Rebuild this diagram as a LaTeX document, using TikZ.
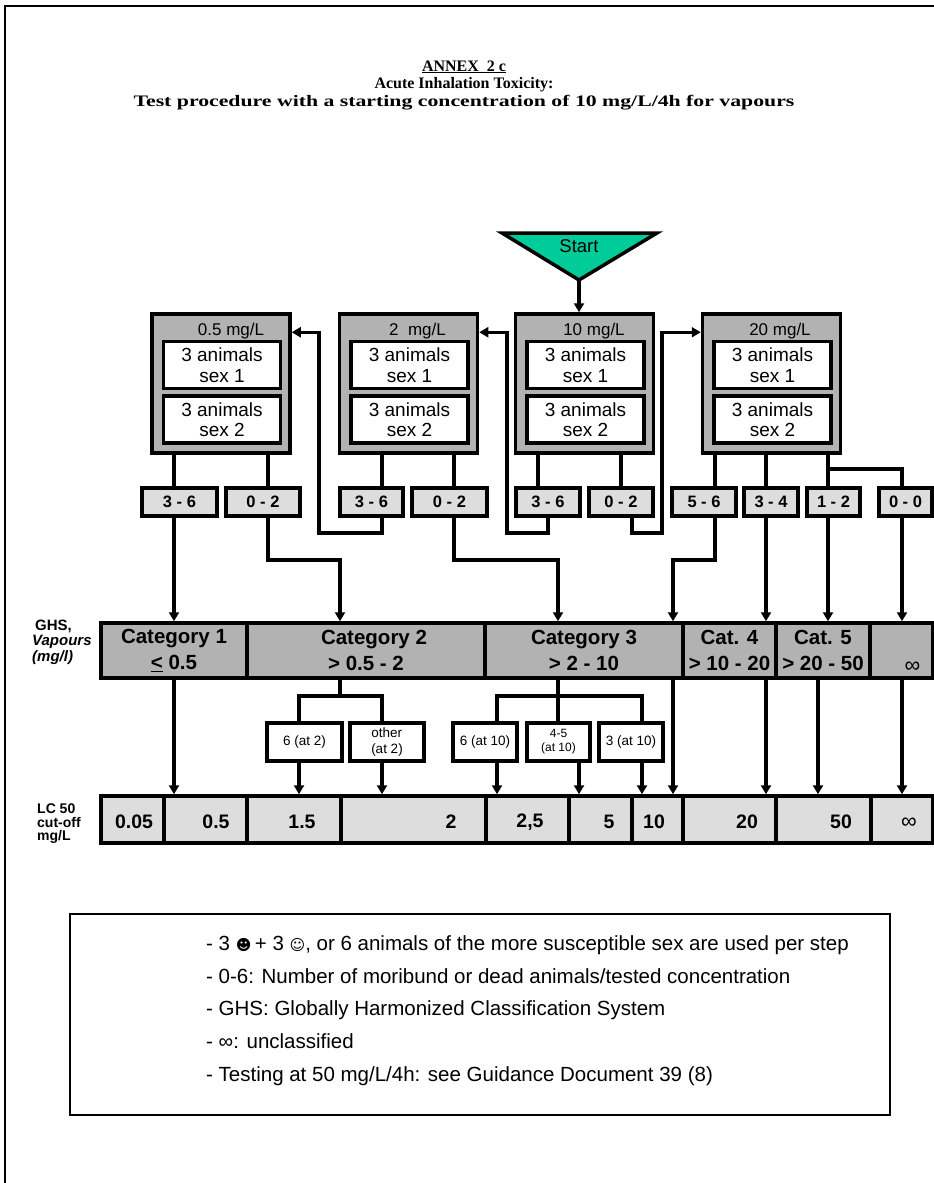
\documentclass[tikz,border=0pt]{standalone}
\usepackage{fontspec}
\setmainfont{Liberation Sans}
\newfontfamily\ttlfont{Liberation Serif}
\newfontfamily\symfnt{DejaVu Sans}
\usetikzlibrary{arrows.meta,calc}
\definecolor{boxgray}{RGB}{178,178,178}
\definecolor{lightgr}{RGB}{221,221,221}
\definecolor{startgreen}{RGB}{0,204,153}
\begin{document}
\begin{tikzpicture}[x=1pt,y=-1pt,
 conn/.style={line width=3.5pt},
 arr/.style={conn,-{Triangle[length=9pt,width=10pt]}},
 bigbox/.style={draw,line width=3.5pt,fill=boxgray,minimum width=138pt,minimum height=139pt,inner sep=0pt},
 animbox/.style={draw,line width=3.5pt,fill=white,minimum width=117pt,minimum height=47pt,inner sep=0pt,align=center,font=\fontsize{19}{20.5}\selectfont},
 conc/.style={font=\fontsize{17}{18}\selectfont,inner sep=0pt},
 lbl/.style={draw,line width=3.5pt,fill=lightgr,minimum height=28pt,inner sep=0pt,font=\bfseries\fontsize{16.5}{18}\selectfont},
 cat/.style={draw,line width=3.5pt,fill=boxgray,minimum height=55pt,inner sep=0pt,align=center,font=\bfseries\fontsize{20.5}{26}\selectfont},
 res/.style={draw,line width=3.5pt,fill=white,minimum height=38pt,inner sep=0pt,align=center,font=\fontsize{13.5}{16}\selectfont},
 lc/.style={draw,line width=3.5pt,fill=lightgr,minimum height=47pt,inner sep=0pt},
 lcval/.style={font=\bfseries\fontsize{19.5}{21}\selectfont,inner sep=0pt},
]
\useasboundingbox (0,0) rectangle (934,1183);
\fill[white] (0,0) rectangle (934,1183);
\draw[line width=2pt] (4.5,1183) -- (4.5,6) -- (934,6);

% title
\node[font=\ttlfont\bfseries\fontsize{16}{17.5}\selectfont,align=center,inner sep=0pt] (title) at (464,85)
 {\underline{ANNEX\ \ 2 c}\\Acute Inhalation Toxicity:\\\scalebox{1.36}[1]{Test procedure with a starting concentration of 10 mg/L/4h for vapours}};

% start
\draw[line width=3.5pt,fill=startgreen] (502,233) -- (657,233) -- (579,280) -- cycle;
\node[font=\fontsize{18.5}{20}\selectfont,inner sep=0pt] (start) at (579,246) {Start};
\coordinate (apex) at (579,280);

% concentration boxes
\node[bigbox] (b1) at (221,383.5) {};
\node[bigbox] (b2) at (408.5,383.5) {};
\node[bigbox] (b3) at (584.5,383.5) {};
\node[bigbox] (b4) at (771.5,383.5) {};
\node[conc] (t1) at (231,331) {0.5 mg/L};
\node[conc] (t2) at (417.5,331) {2\ \ mg/L};
\node[conc] (t3) at (594,331) {10 mg/L};
\node[conc] (t4) at (780,331) {20 mg/L};
\foreach \n/\x in {1/222,2/409.5,3/585.5,4/772.5}{
 \node[animbox] (a\n s1) at (\x,365) {3 animals\\sex 1};
 \node[animbox] (a\n s2) at (\x,419.5) {3 animals\\sex 2};
}
\draw[arr] (apex) -- (apex |- b3.north);

% outcome labels
\node[lbl,minimum width=75pt] (l1a) at (179.5,502) {3 - 6};
\node[lbl,minimum width=74pt] (l1b) at (263,502) {0 - 2};
\node[lbl,minimum width=63pt] (l2a) at (371.5,502) {3 - 6};
\node[lbl,minimum width=75pt] (l2b) at (449.5,502) {0 - 2};
\node[lbl,minimum width=64pt] (l3a) at (548,502) {3 - 6};
\node[lbl,minimum width=64pt] (l3b) at (621,502) {0 - 2};
\node[lbl,minimum width=64pt] (l4a) at (704,502) {5 - 6};
\node[lbl,minimum width=54pt] (l4b) at (771,502) {3 - 4};
\node[lbl,minimum width=53pt] (l4c) at (833.5,502) {1 - 2};
\node[lbl,minimum width=53pt] (l4d) at (905.5,502) {0 - 0};

% category bar
\node[cat,minimum width=146pt] (k1) at (174,650.5) {Category 1\\\underline{<} 0.5};
\node[cat,minimum width=238pt] (k2) at (366,650.5) {\hspace*{16pt}Category 2\\> 0.5 - 2};
\node[cat,minimum width=198pt] (k3) at (584,650.5) {Category 3\\> 2 - 10};
\node[cat,minimum width=93pt] (k4) at (729.5,650.5) {Cat. 4\\> 10 - 20};
\node[cat,minimum width=94pt] (k5) at (823,650.5) {Cat. 5\\> 20 - 50};
\node[cat,minimum width=63pt] (k6) at (901.5,650.5) {\strut\\\hspace*{22pt}\mdseries\fontsize{22}{26}\selectfont ∞};
\node[anchor=west,align=left,inner sep=0pt,font=\bfseries\fontsize{15}{15.5}\selectfont] (ghs) at (32,642)
 {\hspace*{3pt}GHS,\\\textit{Vapours}\\\textit{(mg/l)}};

% result boxes
\node[res,minimum width=75pt] (s1) at (304.5,742) {6 (at 2)};
\node[res,minimum width=74pt,align=left] (s2) at (387,742) {other\\(at 2)};
\node[res,minimum width=64pt] (s3) at (485,742) {6 (at 10)};
\node[res,minimum width=63pt,font=\fontsize{12}{14}\selectfont] (s4) at (558.5,742) {4-5\\(at 10)};
\node[res,minimum width=64pt] (s5) at (631,742) {3 (at 10)};

% LC50 bar
\node[lc,minimum width=63pt] (v1) at (132.5,819.5) {};
\node[lc,minimum width=83pt] (v2) at (205.5,819.5) {};
\node[lc,minimum width=94pt] (v3) at (294,819.5) {};
\node[lc,minimum width=145pt] (v4) at (413.5,819.5) {};
\node[lc,minimum width=83pt] (v5) at (527.5,819.5) {};
\node[lc,minimum width=63pt] (v6) at (600.5,819.5) {};
\node[lc,minimum width=51pt] (v7) at (657.5,819.5) {};
\node[lc,minimum width=93pt] (v8) at (729.5,819.5) {};
\node[lc,minimum width=95pt] (v9) at (823.5,819.5) {};
\node[lc,minimum width=62pt] (v10) at (902,819.5) {};
\node[lcval] (w1) at (134,822) {0.05};
\node[lcval] (w2) at (216,822) {0.5};
\node[lcval] (w3) at (302,822) {1.5};
\node[lcval] (w4) at (451,822) {2};
\node[lcval] (w5) at (530,822) {2,5};
\node[lcval] (w6) at (609,822) {5};
\node[lcval] (w7) at (654,822) {10};
\node[lcval] (w8) at (747,822) {20};
\node[lcval] (w9) at (841,822) {50};
\node[lcval,font=\fontsize{22}{22}\selectfont] (w10) at (909,823) {∞};
\node[anchor=west,align=left,inner sep=0pt,font=\bfseries\fontsize{14}{13.5}\selectfont] (lclbl) at (37,824)
 {LC 50\\cut-off\\mg/L};

% legend
\node[draw,line width=2.5pt,minimum width=820pt,minimum height=201pt,inner sep=0pt] (legend) at (480,1014.5) {};
\node[anchor=west,align=left,inner sep=0pt,font=\fontsize{20.5}{32.75}\selectfont] (legtext) at (206,1010.5)
 {- 3 {\symfnt\fontsize{15}{15}\selectfont ☻}\,+ 3 {\symfnt\fontsize{15}{15}\selectfont ☺}, or 6 animals of the more susceptible sex are used per step\\
  - 0-6: Number of moribund or dead animals/tested concentration\\
  - GHS: Globally Harmonized Classification System\\
  - ∞: unclassified\\
  - Testing at 50 mg/L/4h: see Guidance Document 39 (8)};

% turning points and entry points
\coordinate (in1) at ($(b1.north east)+(0,20)$);
\coordinate (in2) at ($(b2.north east)+(0,20)$);
\coordinate (in4) at ($(b4.north west)+(0,20)$);
\coordinate (tA) at (319,533);
\coordinate (tB) at (507,533);
\coordinate (tC) at (662,533);
\coordinate (tD) at (340,560);
\coordinate (tE) at (558,560);
\coordinate (tF) at (673,560);
\coordinate (tG) at (902,469);
\coordinate (u1) at (299,696);
\coordinate (u2) at (382,696);
\coordinate (u3) at (497,696);
\coordinate (u4) at (558,696);
\coordinate (u5) at (642,696);

% legs from concentration boxes
\draw[conn] ($(b1.south)+(-47,0)$) coordinate (g1a) -- (g1a |- l1a.north);
\draw[conn] ($(b1.south)+(47,0)$) coordinate (g1b) -- (g1b |- l1b.north);
\draw[conn] ($(b2.south)+(-26.5,0)$) coordinate (g2a) -- (g2a |- l2a.north);
\draw[conn] ($(b2.south)+(45.5,0)$) coordinate (g2b) -- (g2b |- l2b.north);
\draw[conn] ($(b3.south)+(-46.5,0)$) coordinate (g3a) -- (g3a |- l3a.north);
\draw[conn] ($(b3.south)+(36.5,0)$) coordinate (g3b) -- (g3b |- l3b.north);
\draw[conn] ($(b4.south)+(-56.5,0)$) coordinate (g4a) -- (g4a |- l4a.north);
\draw[conn] ($(b4.south)+(-5.5,0)$) coordinate (g4b) -- (g4b |- l4b.north);
\draw[conn] ($(b4.south)+(56.5,0)$) coordinate (g4c) -- (g4c |- l4c.north);
\draw[conn] (g4c |- tG) -- (tG) -- (tG |- l4d.north);

% outcomes: retest at other concentration
\draw[arr] (g2a |- l2a.south) |- (tA) |- (in1);
\draw[arr] (l3a.south) |- (tB) |- (in2);
\draw[arr] ($(l3b.south)+(11,0)$) |- (tC) |- (in4);

% outcomes: classification
\draw[arr] (g1a |- l1a.south) -- (g1a |- k1.north);
\draw[arr] (g1b |- l1b.south) |- (tD) -- (tD |- k2.north);
\draw[arr] (g2b |- l2b.south) |- (tE) -- (tE |- k3.north);
\draw[arr] (g4a |- l4a.south) |- (tF) -- (tF |- k3.north);
\draw[arr] (g4b |- l4b.south) -- (g4b |- k4.north);
\draw[arr] (g4c |- l4c.south) -- (g4c |- k5.north);
\draw[arr] (tG |- l4d.south) -- (tG |- k6.north);

% category to LC50
\draw[arr] (g1a |- k1.south) -- (g1a |- v2.north);
\draw[conn] (tD |- k2.south) -- (tD |- u1);
\draw[conn] (u1 |- s1.north) -- (u1) -- (u2) -- (u2 |- s2.north);
\draw[arr] (u1 |- s1.south) -- (u1 |- v3.north);
\draw[arr] (u2 |- s2.south) -- (u2 |- v4.north);
\draw[conn] (tE |- k3.south) -- (u4) -- (u4 |- s4.north);
\draw[conn] (u3 |- s3.north) -- (u3) -- (u5) -- (u5 |- s5.north);
\draw[arr] (u3 |- s3.south) -- (u3 |- v5.north);
\draw[arr] ($(s4.south)+(20.5,0)$) coordinate (e4) -- (e4 |- v6.north);
\draw[arr] (u5 |- s5.south) -- (u5 |- v7.north);
\draw[arr] (tF |- k3.south) -- (tF |- v7.north);
\draw[arr] (g4b |- k4.south) -- (g4b |- v8.north);
\draw[arr] ($(k5.south)+(-5,0)$) coordinate (e5) -- (e5 |- v9.north);
\draw[arr] (tG |- k6.south) -- (tG |- v10.north);
\end{tikzpicture}
\end{document}
